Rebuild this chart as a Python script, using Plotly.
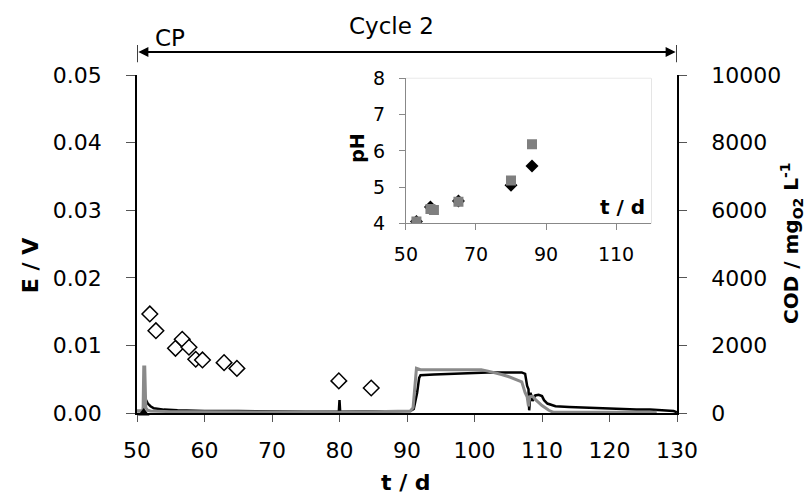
import plotly.graph_objects as go

# ---- main chart: cell potential E (V) vs time (d) ----
t_black = [50, 50.9, 51.0, 51.1, 51.3, 51.6, 52, 52.5, 53, 54, 56, 60, 65, 70, 75, 79.9, 80.0, 80.1,
           85, 88, 89.5, 90.5, 91.0, 91.5, 91.8, 92, 94, 96, 98, 100, 102, 104, 106, 107, 107.5, 107.8,
           108.0, 108.1, 108.3, 108.6, 109, 109.5, 110, 110.3, 110.8, 111.5, 112, 114, 116, 118, 120,
           122, 124, 126, 128, 129.5, 130]
e_black = [0.0003, 0.0003, 0.0030, 0.0026, 0.0020, 0.0014, 0.0010, 0.0007, 0.0006, 0.0005, 0.0004,
           0.0003, 0.0003, 0.0002, 0.0002, 0.0002, 0.0019, 0.0002, 0.0002, 0.0002, 0.0003, 0.0003,
           0.0006, 0.0030, 0.0052, 0.0056, 0.0057, 0.0058, 0.0059, 0.0060, 0.0060, 0.0060, 0.0060,
           0.0060, 0.0058, 0.0040, 0.0035, 0.0004, 0.0030, 0.0018, 0.0026, 0.0027, 0.0025, 0.0019,
           0.0014, 0.0011, 0.0010, 0.0009, 0.0008, 0.0007, 0.0007, 0.0006, 0.0005, 0.0005, 0.0004,
           0.0003, 0.0001]

t_gray = [50, 50.9, 51.0, 51.15, 51.3, 51.6, 52, 55, 60, 70, 80, 85, 88, 89, 90.5, 90.9, 91.2, 91.4,
          92, 94, 96, 98, 100, 101, 102, 103, 104, 105, 106, 107, 107.5, 107.8, 108.0, 108.2, 108.6,
          109, 110, 111, 111.7, 115, 120, 127]
e_gray = [0.0003, 0.0003, 0.0068, 0.0068, 0.0008, 0.0004, 0.0003, 0.0002, 0.0002, 0.0001, 0.0001,
          0.0002, 0.0002, 0.0003, 0.0003, 0.0008, 0.0040, 0.0066, 0.0064, 0.0064, 0.0064, 0.0065,
          0.0065, 0.0064, 0.0062, 0.0060, 0.0057, 0.0054, 0.0050, 0.0046, 0.0030, 0.0024, 0.0010,
          0.0024, 0.0025, 0.0020, 0.0011, 0.0004, 0.0001, 0.0001, 0.0001, 0.0001]

# COD (mgO2/L) open diamonds
t_cod = [51.9, 52.8, 55.7, 56.7, 57.7, 58.7, 59.7, 62.9, 64.8, 79.9, 84.7]
cod = [2930, 2435, 1915, 2180, 1945, 1590, 1570, 1490, 1320, 950, 740]

# start marker
t_start = [51]
e_start = [0]

# ---- inset: pH vs time ----
t_ph_gray = [53, 57, 58, 65, 80, 86]
ph_gray = [4.05, 4.40, 4.37, 4.60, 5.18, 6.18]
t_ph_black = [53, 57, 65, 80, 86]
ph_black = [4.05, 4.45, 4.62, 5.05, 5.58]

x_ticks = [50, 60, 70, 80, 90, 100, 110, 120, 130]
inset_x_ticks = [50, 70, 90, 110]

FONT = "DejaVu Sans"
GRAY = "#8a8a8a"

fig = go.Figure()
fig.add_trace(go.Scatter(x=t_black, y=e_black, mode="lines",
                         line=dict(color="black", width=2.5), xaxis="x", yaxis="y"))
fig.add_trace(go.Scatter(x=t_gray, y=e_gray, mode="lines",
                         line=dict(color=GRAY, width=3), xaxis="x", yaxis="y"))
fig.add_trace(go.Scatter(x=t_cod, y=cod, mode="markers",
                         marker=dict(symbol="diamond", size=12, color="white",
                                     line=dict(color="black", width=1.5)),
                         xaxis="x", yaxis="y2"))
fig.add_trace(go.Scatter(x=t_start, y=e_start, mode="markers", cliponaxis=False,
                         marker=dict(symbol="triangle-up", size=10, color="black"),
                         xaxis="x", yaxis="y"))
fig.add_trace(go.Scatter(x=t_ph_black, y=ph_black, mode="markers",
                         marker=dict(symbol="diamond", size=10, color="black"),
                         xaxis="x3", yaxis="y3"))
fig.add_trace(go.Scatter(x=t_ph_gray, y=ph_gray, mode="markers",
                         marker=dict(symbol="square", size=10, color="#7f7f7f"),
                         xaxis="x3", yaxis="y3"))

tickfont = dict(family=FONT, size=22, color="black")
inset_font = dict(family=FONT, size=19, color="black")

fig.update_layout(
    width=805, height=500,
    margin=dict(l=137, r=128, t=75, b=87),
    paper_bgcolor="white", plot_bgcolor="white",
    showlegend=False,
    xaxis=dict(range=[50, 130], tickvals=x_ticks, ticks="outside", ticklen=7,
               tickcolor="#555", showline=True, linecolor="black", linewidth=1.5,
               showgrid=False, zeroline=False, tickfont=tickfont, ticklabelstandoff=10),
    yaxis=dict(range=[0, 0.05], dtick=0.01, tickformat=".2f", ticks="outside", ticklen=9,
               tickcolor="#555", showline=True, linecolor="black", linewidth=1.5,
               showgrid=False, zeroline=False, tickfont=tickfont, ticklabelstandoff=20),
    yaxis2=dict(range=[0, 10000], dtick=2000, tickformat="d", overlaying="y", side="right",
                ticks="outside", ticklen=8, tickcolor="#555", showline=True, linecolor="black",
                linewidth=1.5, showgrid=False, zeroline=False, tickfont=tickfont,
                ticklabelstandoff=20),
    xaxis3=dict(domain=[0.498, 0.952], anchor="y3", range=[50, 120], tickvals=inset_x_ticks,
                ticks="outside", ticklen=6, tickcolor="#888", showline=True, linecolor="#888",
                linewidth=1.2, showgrid=False, zeroline=False, tickfont=inset_font,
                ticklabelstandoff=8),
    yaxis3=dict(domain=[0.561, 0.990], anchor="x3", range=[4, 8], dtick=1, ticks="outside",
                ticklen=6, tickcolor="#888", showline=True, linecolor="#888", linewidth=1.2,
                showgrid=False, zeroline=False, tickfont=inset_font, ticklabelstandoff=10),
)

# inset frame (light top/right border)
fig.add_shape(type="rect", xref="x3 domain", yref="y3 domain", x0=0, x1=1, y0=0, y1=1,
              line=dict(color="#cfcfcf", width=1), layer="below")

# top cycle bracket
fig.add_shape(type="line", xref="x", yref="paper", x0=50, x1=50, y0=1.038, y1=1.089,
              line=dict(color="black", width=1.5))
fig.add_shape(type="line", xref="x", yref="paper", x0=130, x1=130, y0=1.038, y1=1.089,
              line=dict(color="black", width=1.5))
fig.add_annotation(x=50.2, y=1.068, xref="x", yref="paper", ax=535, ay=0, axref="pixel",
                   ayref="pixel", text="", showarrow=True, arrowhead=2, arrowsize=1,
                   arrowwidth=2, arrowcolor="black")
fig.add_annotation(x=129.8, y=1.068, xref="x", yref="paper", ax=-535, ay=0, axref="pixel",
                   ayref="pixel", text="", showarrow=True, arrowhead=2, arrowsize=1,
                   arrowwidth=2, arrowcolor="black")

def txt(text, x, y, size, bold=False, angle=0, xanchor="center"):
    fig.add_annotation(x=x, y=y, xref="paper", yref="paper", text=f"<b>{text}</b>" if bold else text,
                       showarrow=False, textangle=angle, xanchor=xanchor, yanchor="middle",
                       font=dict(family=FONT, size=size, color="black"))

txt("Cycle 2", 0.472, 1.145, 23)
txt("CP", 0.061, 1.109, 23)
txt("E / V", -0.196, 0.435, 22, bold=True, angle=-90)
txt("COD / mg<sub>O2</sub> L<sup>-1</sup>", 1.213, 0.503, 20, bold=True, angle=-90)
txt("t / d", 0.498, -0.207, 22, bold=True)
txt("pH", 0.407, 0.784, 19, bold=True, angle=-90)
txt("t / d", 0.944, 0.609, 20, bold=True, xanchor="right")

fig.write_html("out.html")
